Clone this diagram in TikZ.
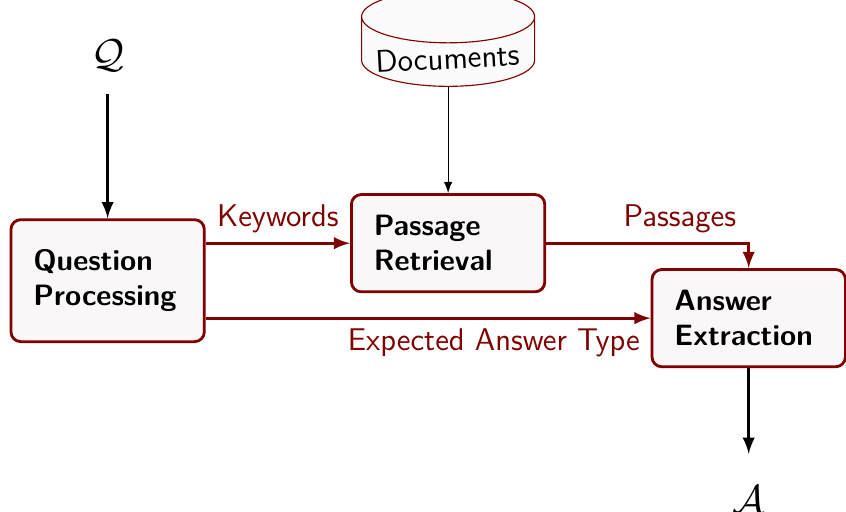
\documentclass[tikz,border=0pt]{standalone}
\usepackage{amssymb}
\usepackage{amsmath}
\usepackage{tikz}
\usetikzlibrary{shapes.geometric, positioning}
\usepackage{xcolor}
\definecolor{qared}{RGB}{128,0,0}
\definecolor{qafill}{RGB}{250,247,248}

\begin{document}
\begin{tikzpicture}[>=latex,font=\fontsize{11.2}{13}\selectfont\sffamily,
    block/.style={draw=qared,line width=1pt,fill=qafill,rounded corners=3.5pt,align=left,text width=53pt,inner xsep=8pt,minimum height=1.22cm,font=\fontsize{10.5}{12.6}\selectfont\sffamily\bfseries},
    flow/.style={->,qared,line width=1pt},
    feed/.style={->,line width=1pt}]
    \useasboundingbox (0,0) rectangle (10.61,-6.41);

    \node (q) at (1.35,-0.70) {\Large $\mathcal{Q}$};
    \node[block,minimum height=1.53cm] (qp) at (1.35,-3.52) {Question\\Processing};
    \node[cylinder,shape border rotate=90,aspect=0.36,draw=qared,fill=gray!3,inner sep=0pt,minimum width=2.17cm,minimum height=0.68cm,anchor=south] (docs) at (5.62,-1.09) {\raisebox{-4.5pt}[6pt][0pt]{\rotatebox{3}{Documents}}};
    \node[block] (pr) at (5.62,-3.05) {Passage\\Retrieval};
    \node[block] (ae) at (9.39,-3.99) {Answer\\Extraction};
    \node (a) at (9.39,-6.27) {\Large $\mathcal{A}$};

    \draw[feed,shorten <=4.5pt] (q) -- (qp);
    \draw[->] (docs) -- (pr);
    \draw[flow] (qp.east |- pr.west) -- node[above] {Keywords} (pr.west);
    \draw[flow] (pr.east) -| node[pos=0.33,above] {Passages} (ae.north);
    \draw[flow] (qp.east |- ae.west) -- node[pos=1,below left] {Expected Answer Type} (ae.west);
    \draw[feed,shorten >=8pt] (ae) -- (a);
\end{tikzpicture}
\end{document}
